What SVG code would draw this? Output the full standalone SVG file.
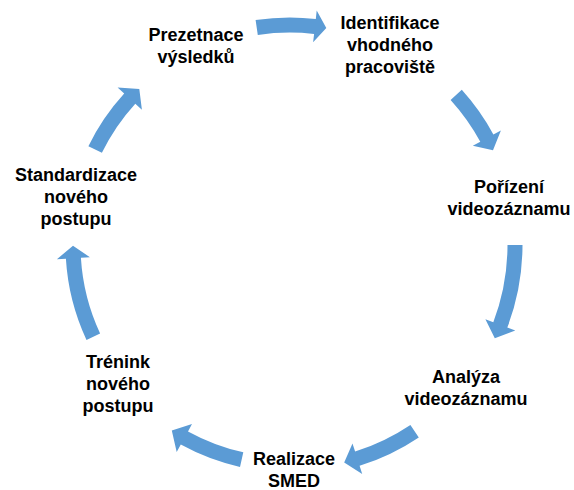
<svg xmlns="http://www.w3.org/2000/svg" width="574" height="490" viewBox="0 0 574 490">
<style>
.arrow{fill:#5B9BD5;stroke:none}
.lbl{font-family:"Liberation Sans",Arial,sans-serif;font-weight:bold;font-size:18px;fill:#000;text-anchor:middle}
</style>
<rect width="574" height="490" fill="#fff"/>
<g id="connectors">
<path class="arrow" d="M255.6,20.1 A227.5,227.5 0 0 1 315.8,19.0 L316.7,10.5 L326.3,28.0 L313.1,42.3 L314.1,33.9 A212.5,212.5 0 0 0 257.8,34.9 Z"/>
<path class="arrow" d="M461.8,89.8 A231.5,231.5 0 0 1 493.4,134.5 L500.9,130.5 L493.0,150.3 L472.8,145.7 L480.3,141.7 A216.5,216.5 0 0 0 450.6,99.9 Z"/>
<path class="arrow" d="M522.5,245 A232.5,232.5 0 0 1 507.3,327.6 L515.3,330.6 L494.8,338.3 L485.4,319.2 L493.3,322.2 A217.5,217.5 0 0 0 507.5,245 Z"/>
<path class="arrow" d="M418.8,437.4 A231.5,231.5 0 0 1 359.6,465.8 L362.2,473.9 L344.2,462.4 L352.5,443.4 L355.1,451.5 A216.5,216.5 0 0 0 410.4,424.9 Z"/>
<path class="arrow" d="M240.0,466.9 A227.5,227.5 0 0 1 180.8,444.5 L176.7,452.0 L171.8,430.5 L192.0,423.9 L188.0,431.4 A212.5,212.5 0 0 0 243.3,452.3 Z"/>
<path class="arrow" d="M86.5,339.9 A224.5,224.5 0 0 1 65.9,258.7 L56.9,259.2 L73.0,245.8 L89.9,257.2 L80.9,257.8 A209.5,209.5 0 0 0 100.1,333.5 Z"/>
<path class="arrow" d="M88.4,146.2 A224.5,224.5 0 0 1 124.2,93.6 L117.6,87.6 L139.3,88.9 L141.9,109.8 L135.3,103.7 A209.5,209.5 0 0 0 101.9,152.8 Z"/>
</g>
<g id="n1"><text class="lbl" x="196" y="41">Prezetnace</text><text class="lbl" x="196" y="63">výsledků</text></g>
<g id="n2"><text class="lbl" x="390" y="29">Identifikace</text><text class="lbl" x="390" y="51">vhodného</text><text class="lbl" x="390" y="73">pracoviště</text></g>
<g id="n3"><text class="lbl" x="509" y="193">Pořízení</text><text class="lbl" x="509" y="215">videozáznamu</text></g>
<g id="n4"><text class="lbl" x="466" y="383">Analýza</text><text class="lbl" x="466" y="405">videozáznamu</text></g>
<g id="n5"><text class="lbl" x="294" y="465">Realizace</text><text class="lbl" x="294" y="487">SMED</text></g>
<g id="n6"><text class="lbl" x="118" y="368">Trénink</text><text class="lbl" x="118" y="390">nového</text><text class="lbl" x="118" y="412">postupu</text></g>
<g id="n7"><text class="lbl" x="76" y="181">Standardizace</text><text class="lbl" x="76" y="203">nového</text><text class="lbl" x="76" y="225">postupu</text></g>
</svg>
